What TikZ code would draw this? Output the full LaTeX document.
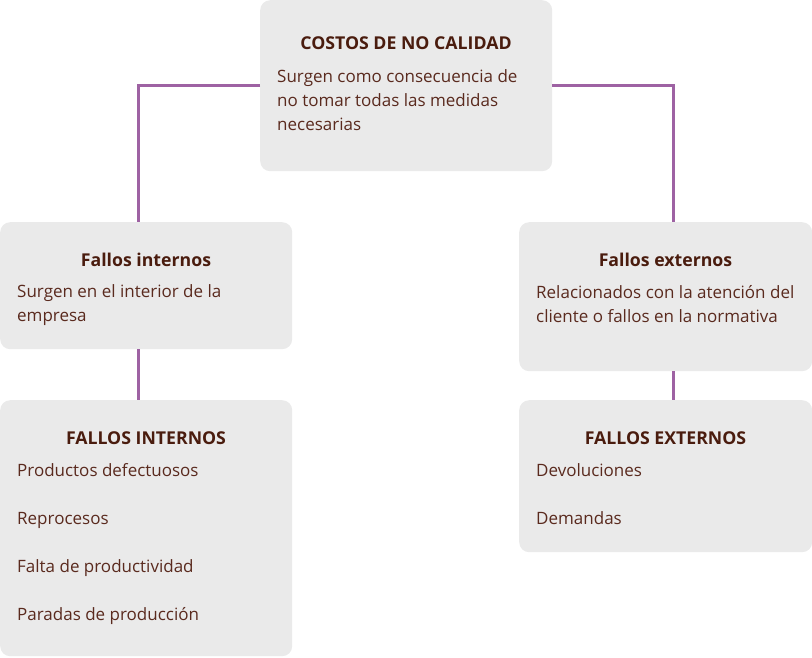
\documentclass[tikz,border=0pt]{standalone}
\usepackage{fontspec}
\setmainfont{Open Sans}
\definecolor{boxgray}{HTML}{EAEAEA}
\definecolor{linkpurple}{HTML}{9E62A3}
\definecolor{titlebrown}{HTML}{4A1C0E}
\definecolor{textbrown}{HTML}{5A2A1E}

\begin{document}
\begin{tikzpicture}[x=1pt,y=-1pt,
    box/.style={fill=boxgray, rounded corners=10pt, inner sep=0pt, anchor=north west},
    boxtitle/.style={anchor=base, inner sep=0pt, text=titlebrown, font=\fontsize{17.7}{21}\selectfont\bfseries},
    boxtext/.style={anchor=base west, inner sep=0pt, text=textbrown, font=\fontsize{17}{20}\selectfont},
    link/.style={draw=linkpurple, line width=2.8pt}]
    \useasboundingbox (0,0) rectangle (812,657);

    % boxes
    \node[box, minimum width=292pt, minimum height=171pt] (costos) at (260,0) {};
    \node[box, minimum width=292pt, minimum height=127pt] (fint) at (0,222) {};
    \node[box, minimum width=292pt, minimum height=256pt] (lint) at (0,400) {};
    \node[box, minimum width=293pt, minimum height=149pt] (fext) at (519,222) {};
    \node[box, minimum width=293pt, minimum height=152pt] (lext) at (519,400) {};

    % connectors
    \draw[link] (costos.west) -| ([xshift=-8pt]fint.north);
    \draw[link] (costos.east) -| ([xshift=8pt]fext.north);
    \draw[link] ([xshift=-8pt]fint.south) -- ([xshift=-8pt]lint.north);
    \draw[link] ([xshift=8pt]fext.south) -- ([xshift=8pt]lext.north);

    % top
    \node[boxtitle] (costostitle) at (406,49) {COSTOS DE NO CALIDAD};
    \node[boxtext] (costos1) at (277,82) {Surgen como consecuencia de};
    \node[boxtext] (costos2) at (277,106) {no tomar todas las medidas};
    \node[boxtext] (costos3) at (277,130) {necesarias};

    % left
    \node[boxtitle] (finttitle) at (146,266) {Fallos internos};
    \node[boxtext] (fint1) at (17,297) {Surgen en el interior de la};
    \node[boxtext] (fint2) at (17,321) {empresa};

    \node[boxtitle] (linttitle) at (146,444) {FALLOS INTERNOS};
    \node[boxtext] (lint1) at (17,476) {Productos defectuosos};
    \node[boxtext] (lint2) at (17,524) {Reprocesos};
    \node[boxtext] (lint3) at (17,572) {Falta de productividad};
    \node[boxtext] (lint4) at (17,620) {Paradas de producción};

    % right
    \node[boxtitle] (fexttitle) at (665.5,266) {Fallos externos};
    \node[boxtext] (fext1) at (536,298) {Relacionados con la atención del};
    \node[boxtext] (fext2) at (536,322) {cliente o fallos en la normativa};

    \node[boxtitle] (lexttitle) at (665.5,444) {FALLOS EXTERNOS};
    \node[boxtext] (lext1) at (536,476) {Devoluciones};
    \node[boxtext] (lext2) at (536,524) {Demandas};
\end{tikzpicture}
\end{document}
